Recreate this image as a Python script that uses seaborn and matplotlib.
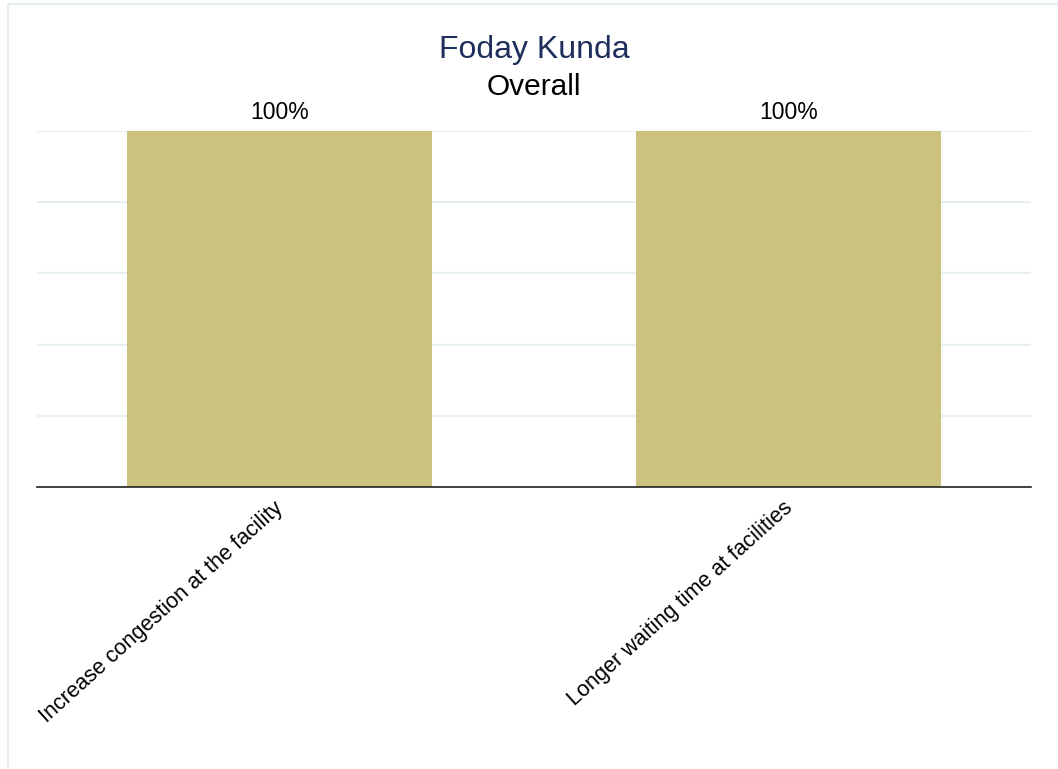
import matplotlib
matplotlib.use("Agg")
import matplotlib.pyplot as plt
import matplotlib.transforms as mtransforms
import seaborn as sns
import pandas as pd
from matplotlib.patches import Rectangle

# data
categories = ["Increase congestion at the facility", "Longer waiting time at facilities"]
values = [100, 100]
labels = ["100%", "100%"]
title = "Foday Kunda"
subtitle = "Overall"

sns.set_style("white")
plt.rcParams['font.family'] = ['Liberation Sans', 'DejaVu Sans']
plt.rcParams['text.color'] = 'black'
plt.rcParams['xtick.color'] = 'black'

df = pd.DataFrame({'cat': categories, 'val': values})

fig = plt.figure(figsize=(10.58, 7.69), dpi=100, facecolor='white')
ax = fig.add_axes([37/1058, 1 - 487/769, (1031 - 37)/1058, (487 - 131)/769])

sns.barplot(data=df, x='cat', y='val', color='#cbc280', saturation=1, width=0.6,
            linewidth=0, ax=ax)

ax.set_xlim(-0.476, 1.476)
ax.set_ylim(0, 100)
ax.set_yticks([0, 20, 40, 60, 80, 100])
ax.yaxis.grid(True, color='#e8eff3', linewidth=1.6)
ax.set_axisbelow(True)
ax.tick_params(axis='y', left=False, labelleft=False)
ax.tick_params(axis='x', bottom=False, pad=4, labelcolor='black')
ax.set_xlabel("")
ax.set_ylabel("")
for side in ['top', 'right', 'left']:
    ax.spines[side].set_visible(False)
ax.spines['bottom'].set_color('#222222')
ax.spines['bottom'].set_linewidth(1.2)
ax.spines['bottom'].set_zorder(5)

plt.setp(ax.get_xticklabels(), rotation=42, ha='right', rotation_mode='anchor', fontsize=15.6)
shift = mtransforms.ScaledTranslation(-6/100, 0, fig.dpi_scale_trans)
for t in ax.get_xticklabels():
    t.set_transform(t.get_transform() + shift)

for i, lab in enumerate(labels):
    ax.annotate(lab, (i, values[i]), xytext=(0, 5), textcoords='offset points',
                ha='center', va='bottom', fontsize=16.5, color='black')

fig.text(534/1058, 1 - 50/769, title, ha='center', va='center', fontsize=23, color='#1f2f5c')
fig.text(534/1058, 1 - 87/769, subtitle, ha='center', va='center', fontsize=21.5, color='black')

# light outer frame
fig.add_artist(Rectangle((8/1058, -0.05), 1.1, 1 - 4/769 + 0.05, transform=fig.transFigure,
                         fill=False, edgecolor='#e6edf2', linewidth=1.5))

fig.savefig('out.png', dpi=100)
